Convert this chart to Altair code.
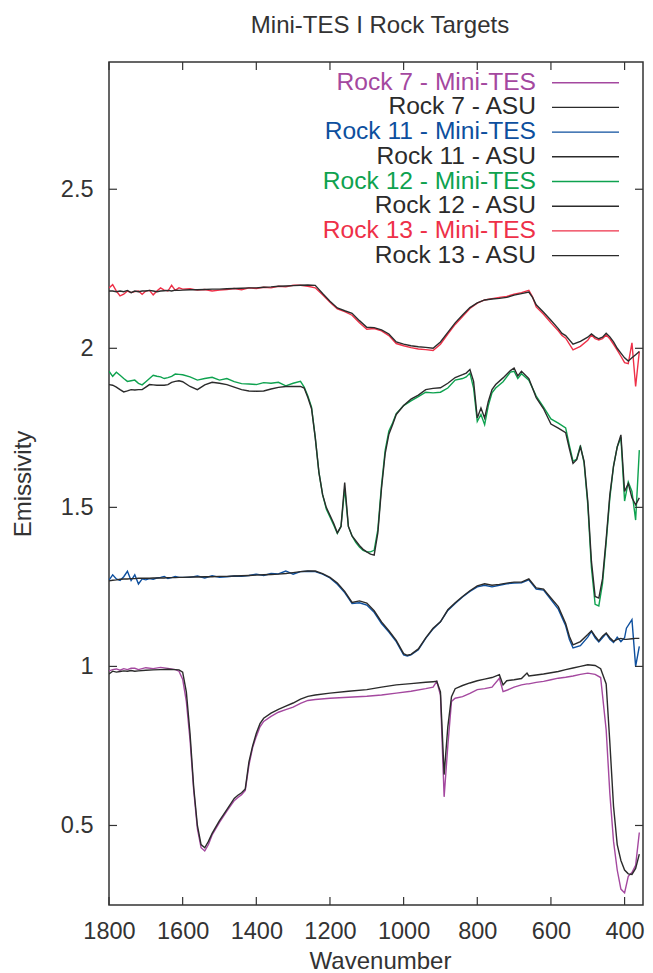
import altair as alt
import pandas as pd

# ---------------- data ----------------
x_ticks = [400, 600, 800, 1000, 1200, 1400, 1600, 1800]
y_ticks = [0.5, 1.0, 1.5, 2.0, 2.5]

rock7_wn = [1800, 1790, 1780, 1770, 1760, 1750, 1740, 1730, 1720, 1700, 1680, 1660, 1640, 1620, 1610,
            1600, 1590, 1580, 1570, 1560, 1550, 1540, 1530, 1520, 1500, 1480, 1460, 1450, 1440, 1430,
            1420, 1410, 1400, 1390, 1380, 1360, 1340, 1320, 1300, 1280, 1260, 1240, 1200, 1150, 1100,
            1060, 1020, 980, 940, 920, 910, 900, 890, 880, 870, 860, 840, 820, 800, 780,
            760, 740, 730, 720, 700, 680, 665, 660, 640, 620, 600, 580, 560, 540, 520,
            500, 480, 465, 450, 440, 430, 420, 410, 400, 390, 380, 370, 360]
rock7_minites = [0.986, 0.990, 0.992, 0.988, 0.993, 0.990, 0.994, 0.994, 0.990, 0.996, 0.993, 0.997, 0.994, 0.990, 0.985,
                 0.960, 0.890, 0.770, 0.610, 0.490, 0.430, 0.420, 0.440, 0.470, 0.510, 0.545, 0.578, 0.588, 0.597, 0.610,
                 0.690, 0.745, 0.780, 0.810, 0.827, 0.843, 0.856, 0.864, 0.872, 0.884, 0.893, 0.896, 0.900, 0.903, 0.906,
                 0.910, 0.916, 0.922, 0.930, 0.935, 0.953, 0.910, 0.590, 0.750, 0.890, 0.900, 0.905, 0.915, 0.927, 0.930,
                 0.935, 0.963, 0.921, 0.925, 0.935, 0.942, 0.945, 0.945, 0.950, 0.953, 0.958, 0.963, 0.966, 0.970, 0.975,
                 0.979, 0.975, 0.965, 0.800, 0.600, 0.450, 0.360, 0.300, 0.288, 0.340, 0.352, 0.375, 0.478]
rock7_asu = [0.976, 0.985, 0.982, 0.984, 0.986, 0.985, 0.987, 0.985, 0.986, 0.988, 0.989, 0.990, 0.991, 0.990, 0.989,
             0.982, 0.920, 0.790, 0.620, 0.500, 0.440, 0.430, 0.450, 0.475, 0.515, 0.550, 0.585, 0.595, 0.603, 0.615,
             0.700, 0.750, 0.790, 0.820, 0.837, 0.853, 0.865, 0.875, 0.885, 0.897, 0.906, 0.910, 0.916, 0.922, 0.927,
             0.935, 0.942, 0.946, 0.950, 0.952, 0.953, 0.920, 0.660, 0.810, 0.905, 0.930, 0.940, 0.948, 0.955, 0.960,
             0.965, 0.974, 0.942, 0.955, 0.958, 0.962, 0.979, 0.970, 0.973, 0.976, 0.980, 0.984, 0.990, 0.995, 1.000,
             1.005, 1.003, 0.993, 0.945, 0.760, 0.560, 0.440, 0.390, 0.360, 0.348, 0.346, 0.365, 0.410]

rock11_wn = [1800, 1790, 1780, 1770, 1760, 1750, 1740, 1730, 1720, 1710, 1700, 1690, 1680, 1670, 1660,
             1650, 1640, 1630, 1620, 1610, 1600, 1580, 1560, 1540, 1520, 1500, 1480, 1460, 1440, 1420,
             1400, 1380, 1360, 1340, 1320, 1300, 1280, 1260, 1240, 1220, 1200, 1180, 1160, 1140, 1120,
             1100, 1080, 1060, 1040, 1020, 1000, 990, 980, 960, 940, 920, 900, 880, 860, 840,
             820, 800, 780, 760, 740, 720, 700, 680, 660, 640, 620, 600, 580, 560, 550,
             540, 520, 500, 490, 480, 470, 460, 450, 440, 430, 420, 410, 400, 395, 380,
             370, 360]
rock11_minites = [1.271, 1.288, 1.275, 1.270, 1.282, 1.299, 1.270, 1.288, 1.259, 1.275, 1.272, 1.276, 1.274, 1.278, 1.280,
                  1.283, 1.276, 1.279, 1.283, 1.280, 1.280, 1.280, 1.284, 1.278, 1.285, 1.280, 1.282, 1.284, 1.283, 1.286,
                  1.290, 1.286, 1.292, 1.291, 1.300, 1.290, 1.298, 1.299, 1.298, 1.290, 1.278, 1.258, 1.232, 1.198, 1.200,
                  1.193, 1.170, 1.135, 1.108, 1.078, 1.036, 1.033, 1.036, 1.052, 1.088, 1.118, 1.140, 1.176, 1.198, 1.218,
                  1.236, 1.250, 1.255, 1.250, 1.255, 1.260, 1.262, 1.263, 1.272, 1.243, 1.240, 1.210, 1.180, 1.128, 1.085,
                  1.058, 1.065, 1.092, 1.110, 1.090, 1.077, 1.090, 1.103, 1.085, 1.075, 1.092, 1.078, 1.090, 1.120, 1.147,
                  1.000, 1.063]
rock11_asu = [1.269, 1.271, 1.272, 1.274, 1.275, 1.275, 1.276, 1.276, 1.277, 1.277, 1.277, 1.277, 1.278, 1.278, 1.278,
              1.278, 1.279, 1.279, 1.279, 1.280, 1.280, 1.281, 1.281, 1.282, 1.282, 1.283, 1.283, 1.284, 1.285, 1.286,
              1.287, 1.288, 1.289, 1.290, 1.292, 1.295, 1.298, 1.300, 1.300, 1.292, 1.280, 1.262, 1.236, 1.201, 1.206,
              1.199, 1.175, 1.140, 1.112, 1.082, 1.040, 1.035, 1.038, 1.055, 1.090, 1.120, 1.140, 1.178, 1.200, 1.220,
              1.238, 1.253, 1.260, 1.255, 1.258, 1.262, 1.265, 1.265, 1.275, 1.247, 1.243, 1.215, 1.188, 1.135, 1.095,
              1.068, 1.078, 1.100, 1.112, 1.095, 1.080, 1.095, 1.105, 1.090, 1.079, 1.085, 1.088, 1.085, 1.085, 1.087,
              1.088, 1.088]

rock12_wn = [1800, 1790, 1780, 1770, 1760, 1750, 1740, 1730, 1720, 1710, 1700, 1690, 1680, 1670, 1660,
             1650, 1640, 1630, 1620, 1610, 1600, 1580, 1560, 1540, 1520, 1500, 1480, 1460, 1440, 1420,
             1400, 1380, 1360, 1340, 1320, 1300, 1280, 1270, 1260, 1250, 1240, 1230, 1220, 1210, 1200,
             1190, 1180, 1170, 1160, 1150, 1140, 1130, 1120, 1110, 1100, 1090, 1080, 1070, 1060, 1050,
             1040, 1030, 1020, 1000, 980, 960, 940, 920, 900, 880, 860, 840, 830, 820, 810,
             800, 790, 780, 770, 760, 750, 730, 710, 700, 690, 680, 660, 640, 620, 600,
             580, 560, 550, 540, 530, 520, 510, 500, 490, 480, 470, 460, 450, 440, 430,
             420, 410, 400, 390, 380, 370, 360]
rock12_minites = [1.928, 1.912, 1.925, 1.915, 1.905, 1.896, 1.898, 1.900, 1.890, 1.885, 1.895, 1.905, 1.915, 1.912, 1.910,
                  1.905, 1.908, 1.912, 1.919, 1.918, 1.917, 1.910, 1.900, 1.905, 1.909, 1.900, 1.905, 1.895, 1.889, 1.888,
                  1.886, 1.892, 1.890, 1.893, 1.882, 1.890, 1.896, 1.878, 1.850, 1.815, 1.720, 1.610, 1.540, 1.495, 1.470,
                  1.445, 1.418, 1.440, 1.560, 1.440, 1.410, 1.390, 1.375, 1.365, 1.360, 1.360, 1.365, 1.430, 1.570, 1.680,
                  1.740, 1.765, 1.795, 1.820, 1.835, 1.848, 1.862, 1.860, 1.862, 1.875, 1.900, 1.905, 1.910, 1.922, 1.875,
                  1.770, 1.792, 1.760, 1.820, 1.860, 1.875, 1.895, 1.925, 1.928, 1.905, 1.920, 1.900, 1.850, 1.815, 1.778,
                  1.765, 1.750, 1.695, 1.645, 1.652, 1.695, 1.640, 1.510, 1.310, 1.195, 1.190, 1.260, 1.390, 1.530, 1.630,
                  1.690, 1.720, 1.520, 1.580, 1.550, 1.460, 1.680]
rock12_asu = [1.886, 1.884, 1.878, 1.870, 1.863, 1.866, 1.870, 1.869, 1.870, 1.870, 1.878, 1.886, 1.885, 1.884, 1.884,
              1.884, 1.886, 1.893, 1.896, 1.898, 1.895, 1.880, 1.870, 1.885, 1.893, 1.890, 1.886, 1.878, 1.870, 1.866,
              1.865, 1.866, 1.872, 1.877, 1.880, 1.880, 1.880, 1.875, 1.845, 1.810, 1.720, 1.610, 1.540, 1.500, 1.475,
              1.450, 1.420, 1.440, 1.578, 1.440, 1.410, 1.395, 1.380, 1.368, 1.360, 1.353, 1.350, 1.420, 1.560, 1.670,
              1.730, 1.760, 1.792, 1.820, 1.840, 1.853, 1.870, 1.874, 1.876, 1.890, 1.908, 1.917, 1.922, 1.933, 1.896,
              1.781, 1.812, 1.781, 1.833, 1.870, 1.886, 1.907, 1.930, 1.938, 1.913, 1.928, 1.905, 1.845, 1.810, 1.762,
              1.749, 1.735, 1.685, 1.638, 1.650, 1.690, 1.645, 1.520, 1.330, 1.220, 1.215, 1.275, 1.400, 1.540, 1.630,
              1.690, 1.728, 1.550, 1.575, 1.530, 1.508, 1.530]

rock13_wn = [1800, 1790, 1780, 1770, 1760, 1750, 1740, 1730, 1720, 1710, 1700, 1690, 1680, 1670, 1660,
             1650, 1640, 1630, 1620, 1610, 1600, 1580, 1560, 1540, 1520, 1500, 1480, 1460, 1440, 1420,
             1400, 1380, 1360, 1340, 1320, 1300, 1280, 1260, 1240, 1220, 1200, 1180, 1160, 1140, 1120,
             1100, 1080, 1060, 1040, 1020, 1000, 980, 960, 940, 920, 900, 880, 860, 840, 820,
             800, 780, 760, 740, 720, 700, 680, 660, 650, 640, 620, 600, 580, 570, 560,
             540, 520, 500, 490, 480, 470, 460, 450, 440, 430, 420, 410, 400, 390, 380,
             370, 360]
rock13_minites = [2.190, 2.200, 2.180, 2.165, 2.170, 2.180, 2.175, 2.178, 2.180, 2.170, 2.180, 2.182, 2.168, 2.180, 2.190,
                  2.183, 2.180, 2.198, 2.182, 2.190, 2.186, 2.187, 2.183, 2.185, 2.180, 2.183, 2.185, 2.188, 2.184, 2.190,
                  2.188, 2.192, 2.190, 2.195, 2.193, 2.198, 2.198, 2.195, 2.190, 2.168, 2.145, 2.124, 2.115, 2.104, 2.080,
                  2.060, 2.062, 2.055, 2.040, 2.015, 2.008, 2.002, 1.998, 1.996, 1.993, 2.013, 2.045, 2.075, 2.100, 2.125,
                  2.142, 2.152, 2.156, 2.160, 2.163, 2.170, 2.175, 2.182, 2.162, 2.130, 2.107, 2.080, 2.055, 2.040, 2.032,
                  1.995, 2.006, 2.025, 2.042, 2.030, 2.026, 2.030, 2.042, 2.030, 2.012, 1.994, 1.975, 1.955, 1.952, 2.017,
                  1.880, 1.990]
rock13_asu = [2.180, 2.180, 2.178, 2.180, 2.178, 2.182, 2.175, 2.180, 2.178, 2.180, 2.180, 2.182, 2.180, 2.178, 2.180,
              2.181, 2.182, 2.180, 2.183, 2.182, 2.183, 2.184, 2.184, 2.185, 2.186, 2.186, 2.187, 2.188, 2.189, 2.190,
              2.190, 2.192, 2.193, 2.195, 2.196, 2.197, 2.198, 2.199, 2.198, 2.172, 2.148, 2.127, 2.118, 2.110, 2.087,
              2.066, 2.065, 2.058, 2.045, 2.020, 2.013, 2.008, 2.005, 2.003, 2.000, 2.020, 2.050, 2.080, 2.105, 2.128,
              2.143, 2.152, 2.155, 2.157, 2.160, 2.167, 2.172, 2.177, 2.160, 2.137, 2.113, 2.088, 2.062, 2.047, 2.040,
              2.013, 2.022, 2.035, 2.045, 2.036, 2.030, 2.035, 2.047, 2.036, 2.020, 2.000, 1.985, 1.970, 1.960, 1.970,
              1.980, 1.990]

rocks = ["Rock 7", "Rock 11", "Rock 12", "Rock 13"]
rock_colors = ["#a4489f", "#0d4f9e", "#0ea24f", "#ee3048"]
asu_color = "#2b2b2b"
chart_title = "Mini-TES I Rock Targets"

# ---------------- build tables ----------------
series = [
    ("Rock 7", rock7_wn, rock7_minites, rock7_asu),
    ("Rock 11", rock11_wn, rock11_minites, rock11_asu),
    ("Rock 12", rock12_wn, rock12_minites, rock12_asu),
    ("Rock 13", rock13_wn, rock13_minites, rock13_asu),
]
rows = []
for rock, wn, mt, asu in series:
    col = rock_colors[rocks.index(rock)]
    for w, a, b in zip(wn, mt, asu):
        rows.append({"rock": rock, "kind": "Mini-TES", "wn": w, "value": a, "col": col})
        rows.append({"rock": rock, "kind": "ASU", "wn": w, "value": b, "col": asu_color})
df = pd.DataFrame(rows)

legend_labels, legend_cols = [], []
for rock, col in zip(rocks, rock_colors):
    legend_labels += [f"{rock} - Mini-TES", f"{rock} - ASU"]
    legend_cols += [col, asu_color]
legend_df = pd.DataFrame({"label": legend_labels, "col": legend_cols})
legend_df["py"] = [20.7 + 24.7 * i for i in range(len(legend_df))]

# plot area starts at page x=109; whole svg kept <= 637 px wide so it is not rescaled
W, H = 534, 843
FONT = "Liberation Sans"
TXT = "#333333"

xscale = alt.Scale(domain=[350, 1800], reverse=True, nice=False, zero=False)
yscale = alt.Scale(domain=[0.25, 2.9], nice=False, zero=False)

xaxis = alt.Axis(values=x_ticks, format="d", ticks=False, tickSize=0, domain=False, grid=False,
                 labelOverlap=False, labelFlush=False,
                 labelFontSize=23.5, labelFont=FONT, labelColor=TXT, labelPadding=14,
                 title="Wavenumber", titleFontSize=24, titleFont=FONT, titleColor=TXT,
                 titleFontWeight="normal", titleX=271, titleY=63, titleBaseline="alphabetic",
                 titleAlign="center")
yaxis = alt.Axis(values=y_ticks, format="~g", ticks=False, tickSize=0, domain=False, grid=False,
                 labelOverlap=False, labelFlush=False,
                 labelFontSize=23.5, labelFont=FONT, labelColor=TXT, labelPadding=16,
                 title="Emissivity", titleFontSize=24, titleFont=FONT, titleColor=TXT,
                 titleFontWeight="normal", titleX=-86, titleY=H / 2, titleAngle=270,
                 titleBaseline="middle", titleAlign="center")

base = alt.Chart(df)
minites = base.transform_filter(alt.datum.kind == "Mini-TES").mark_line(strokeWidth=1.4, clip=True).encode(
    x=alt.X("wn:Q", scale=xscale, axis=xaxis),
    y=alt.Y("value:Q", scale=yscale, axis=yaxis),
    color=alt.Color("col:N", scale=None),
    detail="rock:N",
)
asu = base.transform_filter(alt.datum.kind == "ASU").mark_line(strokeWidth=1.4, clip=True).encode(
    x=alt.X("wn:Q", scale=xscale),
    y=alt.Y("value:Q", scale=yscale),
    color=alt.Color("col:N", scale=None),
    detail="rock:N",
)

xt = alt.Chart(pd.DataFrame({"wn": x_ticks}))
ticks_bottom = xt.mark_rule(color="#333333", strokeWidth=1.2).encode(
    x=alt.X("wn:Q", scale=xscale), y=alt.value(H), y2=alt.value(H - 8))
ticks_top = xt.mark_rule(color="#333333", strokeWidth=1.2).encode(
    x=alt.X("wn:Q", scale=xscale), y=alt.value(0), y2=alt.value(8))
yt = alt.Chart(pd.DataFrame({"value": y_ticks}))
ticks_left = yt.mark_rule(color="#333333", strokeWidth=1.2).encode(
    y=alt.Y("value:Q", scale=yscale), x=alt.value(0), x2=alt.value(8))
ticks_right = yt.mark_rule(color="#333333", strokeWidth=1.2).encode(
    y=alt.Y("value:Q", scale=yscale), x=alt.value(W - 8), x2=alt.value(W))

lg = alt.Chart(legend_df)
legend_text = lg.mark_text(align="right", baseline="middle", fontSize=24.6, font=FONT).encode(
    x=alt.value(427), y=alt.Y("py:Q", scale=None), text="label:N",
    color=alt.Color("col:N", scale=None))
legend_lines = lg.mark_rule(strokeWidth=1.4).encode(
    x=alt.value(443), x2=alt.value(510), y=alt.Y("py:Q", scale=None),
    color=alt.Color("col:N", scale=None))

title_mark = alt.Chart(pd.DataFrame({"t": [chart_title]})).mark_text(
    align="center", baseline="alphabetic", fontSize=24, font=FONT, color=TXT
).encode(x=alt.value(271), y=alt.value(-29), text="t:N")

chart = alt.layer(
    minites, asu, ticks_bottom, ticks_top, ticks_left, ticks_right, legend_text, legend_lines,
    title_mark
).properties(
    width=W, height=H,
    autosize=alt.AutoSizeParams(type="none"),
    padding={"left": 101, "top": 54, "right": 2, "bottom": 68},
).configure_view(stroke="#333333", strokeWidth=1.5)

chart.save("out.html", embed_options={"renderer": "svg", "actions": False})
